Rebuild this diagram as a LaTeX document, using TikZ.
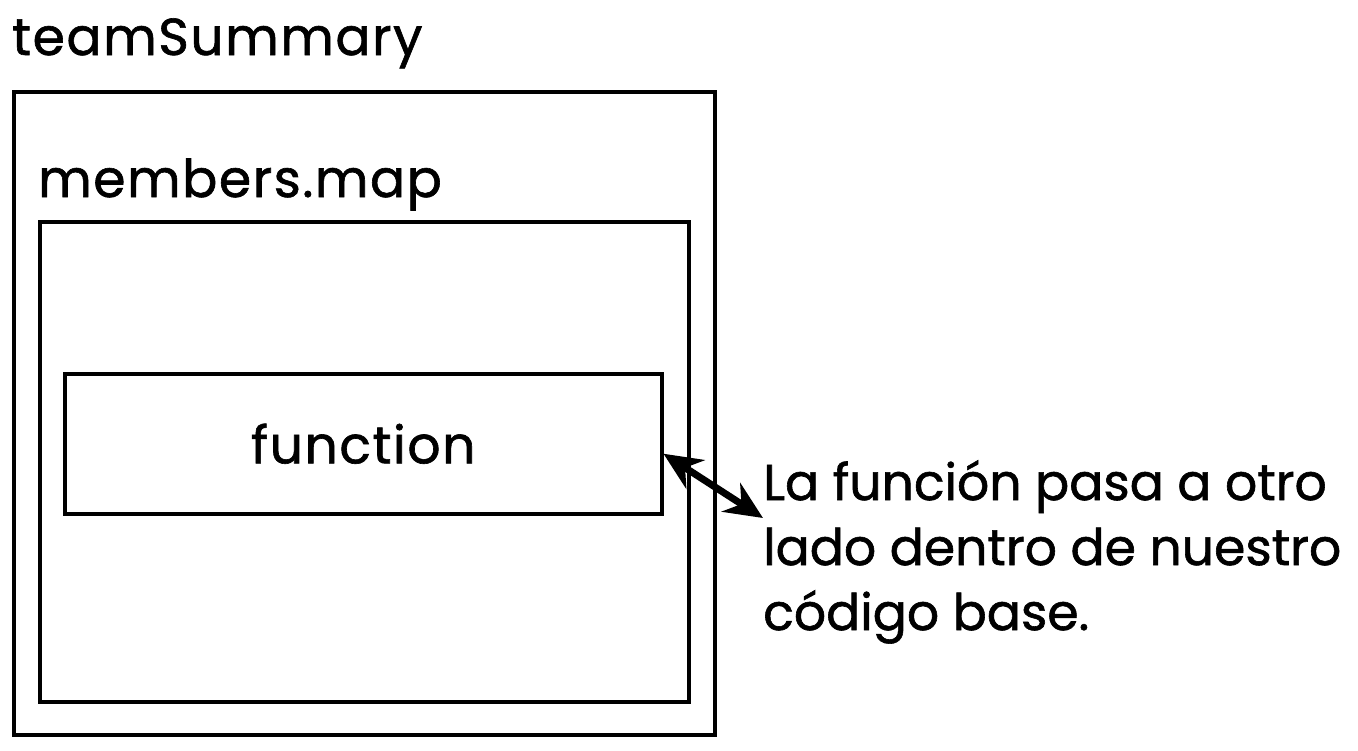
\documentclass[tikz,border=0pt]{standalone}
\usepackage{fontspec}
\setmainfont{Poppins}[LetterSpace=3,FakeBold=1.2]
\newfontfamily\notefont{Poppins}[FakeBold=1.2]
\usetikzlibrary{arrows.meta, calc, positioning}

\begin{document}
\begin{tikzpicture}[x=1pt,y=-1pt,>=Stealth,font=\fontsize{52}{65}\selectfont]

\tikzset{
  box/.style={draw=black, line width=3.5pt, inner sep=0pt},
  lbl/.style={anchor=base west, inner sep=0pt}
}

% ---- area ----
\useasboundingbox (0,0) rectangle (1358,750);

% ---- scatole ----
\node[box, minimum width=701pt, minimum height=643pt, anchor=north west] (summary) at (12,90) {};
\node[box, minimum width=649pt, minimum height=480pt, anchor=north west] (members) at (38,220) {};
\node[box, minimum width=597pt, minimum height=140pt, anchor=north west] (func) at (63,372) {};
\node at (func.center) {function};

% ---- etichette ----
\node[lbl] (summarylbl) at (12,55) {teamSummary};
\node[lbl] (memberslbl) at (38,197) {members.map};

% nota a destra
\node[anchor=north west, inner sep=0pt, align=left, font=\notefont\fontsize{50.5}{65}\selectfont] (note) at (763,460)
  {La función pasa a otro\\lado dentro de nuestro\\código base.};

% ---- freccia ----
\draw[{Stealth[length=38pt,width=34pt]}-{Stealth[length=38pt,width=34pt]}, line width=7pt]
  ([yshift=-10pt]func.east) -- ([yshift=-58pt]note.north west);

\end{tikzpicture}
\end{document}
